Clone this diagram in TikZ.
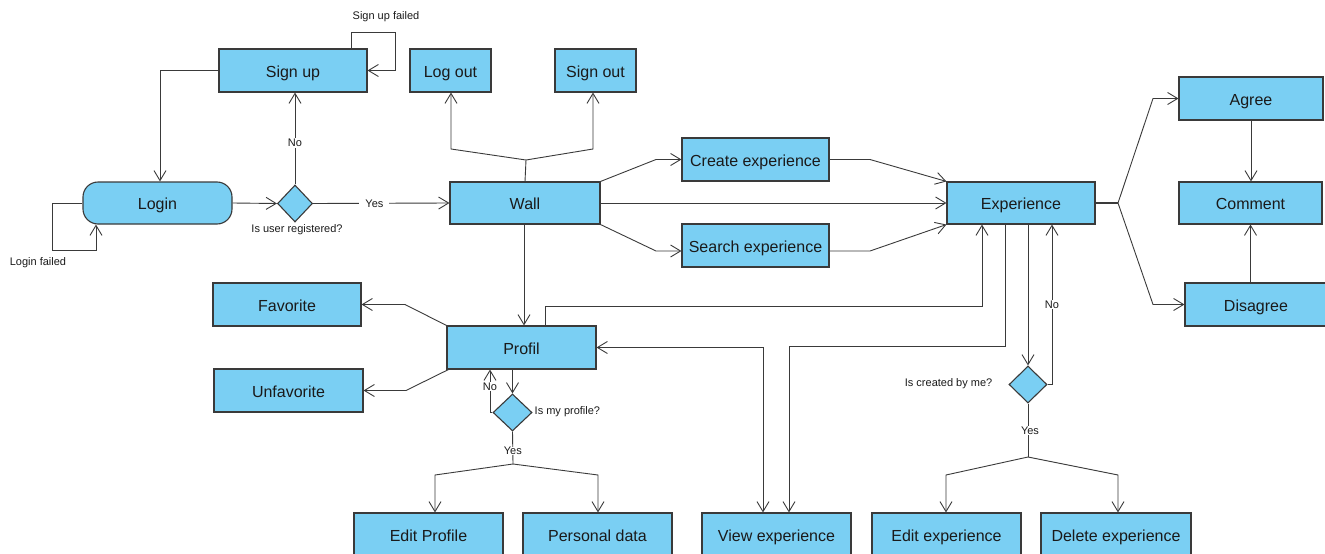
\documentclass[tikz,border=0pt]{standalone}
\usepackage{fontspec}
\setmainfont{Liberation Sans}
\usetikzlibrary{arrows.meta,shapes.geometric}
\definecolor{boxfill}{HTML}{7ACFF3}
\definecolor{edgecol}{HTML}{3A3A3A}
\definecolor{txt}{HTML}{1A1A1A}

\begin{document}
\begin{tikzpicture}[x=1pt,y=-1pt,
  box/.style={draw=edgecol,line width=1.1pt,fill=boxfill,inner sep=0pt,
    minimum width=148pt,minimum height=43pt,text=txt,font=\fontsize{16}{18}\selectfont,
    text height=15pt,text depth=2pt},
  decision/.style={diamond,draw=edgecol,line width=1.1pt,fill=boxfill,inner sep=0pt,
    minimum width=37pt,minimum height=37pt},
  lbl/.style={text=txt,font=\fontsize{11}{13}\selectfont,inner sep=1.5pt},
  onl/.style={lbl,fill=white},
  conn/.style={draw=edgecol,line width=0.9pt},
  arr/.style={conn,-{Straight Barb[length=10pt,width=12pt]}},
  arrboth/.style={conn,{Straight Barb[length=10pt,width=12pt]}-{Straight Barb[length=10pt,width=12pt]}}
]
\useasboundingbox (0,0) rectangle (1325,554);
\clip (0,0) rectangle (1325,554);

% ---- boxes ----
\node[box] (signup) at (293,70.5) {Sign up};
\node[box,minimum width=81pt] (logout) at (450.5,70.5) {Log out};
\node[box,minimum width=81pt] (signout) at (595.5,70.5) {Sign out};
\node[box,minimum width=149pt,minimum height=42pt,rounded corners=15pt] (login) at (157.5,203) {Login};
\node[box,minimum width=150pt,minimum height=42pt] (wall) at (525,203) {Wall};
\node[box,minimum width=147pt] (create) at (755.5,159.5) {Create experience};
\node[box,minimum width=147pt] (search) at (755.5,245.5) {Search experience};
\node[box,minimum height=42pt] (exper) at (1021,203) {Experience};
\node[box,minimum width=144pt] (agree) at (1251,98.5) {Agree};
\node[box,minimum width=143pt,minimum height=42pt] (comment) at (1250.5,203) {Comment};
\node[box,minimum width=142pt] (disagree) at (1256,304.5) {Disagree};
\node[box] (favorite) at (287,304.5) {Favorite};
\node[box,minimum width=149pt] (unfav) at (288.5,390.5) {Unfavorite};
\node[box,minimum width=149pt] (profil) at (521.5,347.5) {Profil};
\node[box,minimum width=149pt] (editprofile) at (428.5,534.5) {Edit Profile};
\node[box,minimum width=149pt] (personal) at (597.5,534.5) {Personal data};
\node[box,minimum width=149pt] (viewexp) at (776.5,534.5) {View experience};
\node[box,minimum width=149pt] (editexp) at (946.5,534.5) {Edit experience};
\node[box,minimum width=150pt] (deleteexp) at (1116,534.5) {Delete experience};

% ---- decisions ----
\node[decision,minimum width=35pt] (d1) at (295,203.5) {};
\node[decision,minimum width=39pt] (d2) at (512.5,412.5) {};
\node[decision,minimum width=38pt] (d3) at (1028,384.5) {};

\node[lbl] (d1txt) at (297,230) {Is user registered?};
\node[lbl,anchor=west] (d2txt) at (533,412) {Is my profile?};
\node[lbl,anchor=east] (d3txt) at (994,384) {Is created by me?};
\node[lbl] (sfail) at (386,17) {Sign up failed};
\node[lbl] (lfail) at (38,263) {Login failed};

% ---- login / sign up ----
\draw[arr] (login.east) -- (d1.west);
\draw[arr] (d1.north) -- node[onl,pos=0.45]{No} (d1.north |- signup.south);
\draw[arr] (d1.east) -- node[onl,pos=0.45,inner xsep=6pt]{Yes} (wall.west);
\draw[arr] (signup.west) -| ([xshift=2.5pt]login.north);
\coordinate (sl) at (395,32);
\draw[arr] ([xshift=58pt]signup.north) |- (sl) |- (signup.east);
\coordinate (ll) at (52,250);
\draw[arr] (login.west) -| (ll) -| ([xshift=-61.5pt]login.south);

% ---- wall ----
\coordinate (wtop) at (526,160);
\coordinate (wlo) at (451,149);
\coordinate (wso) at (593,149);
\draw[conn] (wall.north) -- (wtop);
\draw[arr] (wtop) -- (wlo) -- (wlo |- logout.south);
\draw[arr] (wtop) -- (wso) -- (wso |- signout.south);
\coordinate (wc) at (656,159.5);
\coordinate (ws) at (656,251);
\draw[arr] (wall.north east) -- (wc) -- (create.west);
\draw[arr] (wall.south east) -- (ws) -- (ws -| search.west);
\draw[arr] (wall.east) -- (exper.west);
\draw[arr] ([xshift=-1pt]wall.south) -- ([xshift=-1pt]wall.south |- profil.north);

% ---- into experience ----
\coordinate (ce) at (870,159.5);
\coordinate (se) at (870,251);
\draw[arr] (create.east) -- (ce) -- (exper.north west);
\draw[arr] (se -| search.east) -- (se) -- (exper.south west);

% ---- profil ----
\coordinate (pf) at (405,304.5);
\coordinate (pu) at (406,390.5);
\draw[arr] (profil.north west) -- (pf) -- (favorite.east);
\draw[arr] ([xshift=2pt]profil.south west) -- (pu) -- (unfav.east);
\draw[arr] (d2.north |- profil.south) -- (d2.north);
\draw[arr] (d2.west) -| node[onl,pos=0.8,inner sep=0.5pt]{No} ([xshift=-31.5pt]profil.south);
\coordinate (pj) at (513,464);
\coordinate (pl) at (435,475);
\coordinate (pr) at (598,475);
\draw[conn] (d2.south) -- node[onl,pos=0.6,inner sep=0.5pt]{Yes} (pj);
\draw[arr] (pj) -- (pl) -- (pl |- editprofile.north);
\draw[arr] (pj) -- (pr) -- (pr |- personal.north);
\draw[arrboth] (profil.east) -| ([xshift=-13.5pt]viewexp.north);
\coordinate (pe) at (982,306);
\draw[arr] ([xshift=23.5pt]profil.north) |- (pe) -- (pe |- exper.south);

% ---- experience ----
\coordinate (ev) at (1005,346.5);
\draw[arr] (ev |- exper.south) -- (ev) -| ([xshift=12.5pt]viewexp.north);
\draw[arr] (d3.north |- exper.south) -- (d3.north);
\draw[arr] (d3.east) -| node[onl,pos=0.75,inner sep=0.5pt]{No} ([xshift=31pt]exper.south);
\coordinate (ej) at (1028,457);
\coordinate (el) at (946,475);
\coordinate (er) at (1118,475);
\draw[conn] (d3.south) -- node[onl,pos=0.5,inner sep=0.5pt,xshift=2pt]{Yes} (ej);
\draw[arr] (ej) -- (el) -- (el |- editexp.north);
\draw[arr] (ej) -- (er) -- (er |- deleteexp.north);

\coordinate (xa) at (1118,203);
\coordinate (xu) at (1153,98.5);
\coordinate (xd) at (1153,304.5);
\draw[conn,line width=2pt] (exper.east) -- (xa);
\draw[arr] (xa) -- (xu) -- (agree.west);
\draw[arr] (xa) -- (xd) -- (disagree.west);
\draw[arr] (agree.south) -- (agree.south |- comment.north);
\draw[arr] (comment.south |- disagree.north) -- (comment.south);
\end{tikzpicture}
\end{document}
